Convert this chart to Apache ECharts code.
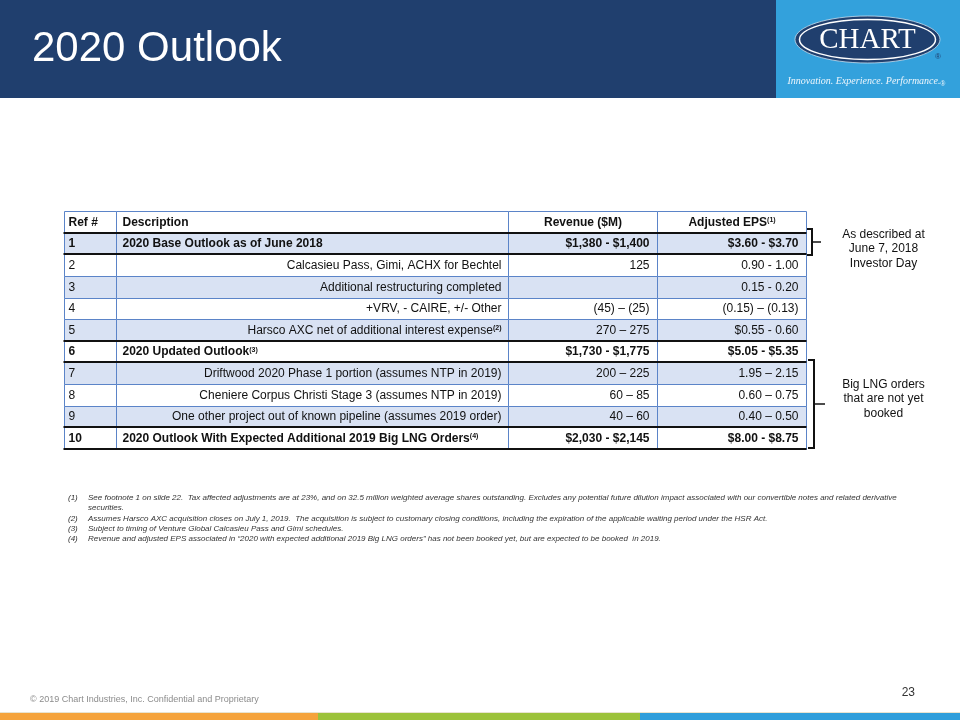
<!DOCTYPE html>
<html><head><meta charset="utf-8">
<script src="https://cdn.jsdelivr.net/npm/echarts@6/dist/echarts.min.js"></script>
<style>html,body{margin:0;padding:0;background:#fff}#c{width:960px;height:720px}</style>
</head><body><div id="c"></div>
<script>
// ---------------- data ----------------
const headers = ['Ref #', 'Description', 'Revenue ($M)', 'Adjusted EPS'];
const headerNotes = [null, null, null, 1];
const refs = ['1', '2', '3', '4', '5', '6', '7', '8', '9', '10'];
const descriptions = [
  '2020 Base Outlook as of June 2018',
  'Calcasieu Pass, Gimi, ACHX for Bechtel',
  'Additional restructuring completed',
  '+VRV, - CAIRE, +/- Other',
  'Harsco AXC net of additional interest expense',
  '2020 Updated Outlook',
  'Driftwood 2020 Phase 1 portion (assumes NTP in 2019)',
  'Cheniere Corpus Christi Stage 3 (assumes NTP in 2019)',
  'One other project out of known pipeline (assumes 2019 order)',
  '2020 Outlook With Expected Additional 2019 Big LNG Orders'
];
const descNotes = [null, null, null, null, 2, 3, null, null, null, 4];
const revenue = ['$1,380 - $1,400', '125', '', '(45) \u2013 (25)', '270 \u2013 275', '$1,730 - $1,775', '200 \u2013 225', '60 \u2013 85', '40 \u2013 60', '$2,030 - $2,145'];
const eps = ['$3.60 - $3.70', '0.90 - 1.00', '0.15 - 0.20', '(0.15) \u2013 (0.13)', '$0.55 - 0.60', '$5.05 - $5.35', '1.95 \u2013 2.15', '0.60 \u2013 0.75', '0.40 \u2013 0.50', '$8.00 - $8.75'];
const totalRefs = ['1', '6', '10'];
const bracketFrom = ['1', '7'];
const bracketTo = ['1', '10'];
const bracketLabels = [
  ['As described at', 'June 7, 2018', 'Investor Day'],
  ['Big LNG orders', 'that are not yet', 'booked']
];
const footnoteNums = ['(1)', '', '(2)', '(3)', '(4)'];
const footnoteLines = [
  'See footnote 1 on slide 22.  Tax affected adjustments are at 23%, and on 32.5 million weighted average shares outstanding. Excludes any potential future dilution impact associated with our convertible notes and related derivative',
  'securities.',
  'Assumes Harsco AXC acquisition closes on July 1, 2019.  The acquisition is subject to customary closing conditions, including the expiration of the applicable waiting period under the HSR Act.',
  'Subject to timing of Venture Global Calcasieu Pass and Gimi schedules.',
  'Revenue and adjusted EPS associated in \u201c2020 with expected additional 2019 Big LNG orders\u201d has not been booked yet, but are expected to be booked  in 2019.'
];
const titleText = '2020 Outlook';
const footerText = '\u00a9 2019 Chart Industries, Inc. Confidential and Proprietary';
const pageNumber = '23';

// ---------------- styles ----------------
const FONT = "'Liberation Sans', Arial, sans-serif";
const SERIF = "'Liberation Serif', 'Times New Roman', serif";
const NAVY = '#203F6E';
const LOGO_BLUE = '#33A1DC';
const BAND = '#D9E2F3';
const GRID_LINE = '#5B84C8';
const TXT = '#111111';
const TABLE_W = 742;
const COL_EDGES = [0, 52, 444, 593, 742];
const BR_STYLE = [{dx: 6, tick: 9, serif: 5, top: -4, bot: 1, labelDy: 7}, {dx: 8, tick: 11, serif: 6, top: -2, bot: -1, labelDy: -5}];

const rowKeys = ['hdr'].concat(refs);

function richText(t, note) {
  return note ? t + '{sup|(' + note + ')}' : t;
}

function renderRow(params, api) {
  const r = api.value(1);
  const h = api.size([0, 1])[1];
  const cy = api.coord([0, r])[1];
  const top = Math.round(cy - h / 2) + 0.5;
  const bot = Math.round(cy + h / 2) + 0.5;
  const xs = COL_EDGES.map(e => Math.round(api.coord([e, r])[0]) + 0.5);
  const children = [];
  const fill = r % 2 === 1 ? BAND : '#ffffff';
  for (let c = 0; c < 4; c++) {
    children.push({type: 'rect', shape: {x: xs[c], y: top, width: xs[c + 1] - xs[c], height: bot - top},
      style: {fill: fill, stroke: GRID_LINE, lineWidth: 1}});
  }
  const isHeader = r === 0;
  const i = r - 1;
  const bold = isHeader || totalRefs.indexOf(refs[i]) >= 0;
  const cells = isHeader
    ? headers.map((t, k) => ({t: t, note: headerNotes[k]}))
    : [{t: refs[i]}, {t: descriptions[i], note: descNotes[i]}, {t: revenue[i]}, {t: eps[i]}];
  cells.forEach((cell, c) => {
    let align, x;
    if (c === 0) { align = 'left'; x = xs[0] + 4; }
    else if (c === 1) {
      if (bold) { align = 'left'; x = xs[1] + 6; } else { align = 'right'; x = xs[2] - 7; }
    } else if (isHeader) { align = 'center'; x = (xs[c] + xs[c + 1]) / 2; }
    else { align = 'right'; x = xs[c + 1] - 8; }
    if (!cell.t) return;
    children.push({type: 'text', z2: 10, style: {
      text: richText(cell.t, cell.note), x: x, y: cy + 0.5,
      align: align, textAlign: align, verticalAlign: 'middle', textVerticalAlign: 'middle',
      fontSize: 12, fontFamily: FONT, fontWeight: bold ? 'bold' : 'normal', fill: TXT,
      rich: {sup: {fontSize: 7, fontFamily: FONT, fontWeight: 'bold', fill: TXT, verticalAlign: 'top', padding: [0, 0, 3, 0]}}
    }});
  });
  return {type: 'group', children: children};
}

function renderRule(params, api) {
  const r = api.value(1);
  const h = api.size([0, 1])[1];
  const y = Math.round(api.coord([0, r])[1] + h / 2);
  const x1 = api.coord([0, r])[0];
  const x2 = api.coord([TABLE_W, r])[0];
  return {type: 'line', shape: {x1: x1 - 0.5, y1: y, x2: x2 + 0.5, y2: y}, style: {stroke: TXT, lineWidth: 2}};
}

function renderBracket(params, api) {
  const r1 = api.value(1), r2 = api.value(2), k = api.value(3);
  const s = BR_STYLE[k];
  const h = api.size([0, 1])[1];
  const top = Math.round(api.coord([0, r1])[1] - h / 2 + s.top);
  const bot = Math.round(api.coord([0, r2])[1] + h / 2 + s.bot);
  const xr = api.coord([TABLE_W, r1])[0];
  const bx = Math.round(xr + s.dx);
  const mid = Math.round((top + bot) / 2);
  return {type: 'group', children: [
    {type: 'polyline', shape: {points: [[bx - s.serif, top], [bx, top], [bx, bot], [bx - s.serif, bot]]},
      style: {stroke: TXT, lineWidth: 2, fill: null}},
    {type: 'line', shape: {x1: bx, y1: mid, x2: bx + s.tick, y2: mid}, style: {stroke: TXT, lineWidth: 1.5}},
    {type: 'text', style: {text: bracketLabels[k].join('\n'), x: xr + 77.5, y: mid + s.labelDy,
      align: 'center', textAlign: 'center', verticalAlign: 'middle', textVerticalAlign: 'middle',
      lineHeight: 14.5, fontSize: 12, fontFamily: FONT, fill: TXT}}
  ]};
}

const rowData = rowKeys.map((k, i) => [0, i]);
const ruleRows = ['hdr', '1', '5', '6', '9', '10'].map(ref => [0, rowKeys.indexOf(ref)]);
const bracketData = bracketFrom.map((f, k) => [0, rowKeys.indexOf(f), rowKeys.indexOf(bracketTo[k]), k]);

// ---------------- graphics (slide frame) ----------------
const graphics = [
  {type: 'rect', shape: {x: 0, y: 0, width: 960, height: 98}, style: {fill: NAVY}},
  {type: 'rect', shape: {x: 776, y: 0, width: 184, height: 98}, style: {fill: LOGO_BLUE}},
  {type: 'text', style: {text: titleText, x: 32, y: 49, fontSize: 42, fontFamily: FONT, fill: '#ffffff',
    verticalAlign: 'middle', textVerticalAlign: 'middle'}},
  {type: 'ellipse', shape: {cx: 867.5, cy: 39.5, rx: 72.5, ry: 23.5}, style: {fill: NAVY, stroke: '#c9dff0', lineWidth: 0.8}},
  {type: 'ellipse', shape: {cx: 867.5, cy: 39.5, rx: 68, ry: 20}, style: {fill: null, stroke: '#ffffff', lineWidth: 1.5}},
  {type: 'text', style: {text: 'CHART', x: 867.5, y: 40, fontSize: 29, fontFamily: SERIF, fill: '#ffffff',
    align: 'center', textAlign: 'center', verticalAlign: 'middle', textVerticalAlign: 'middle'}},
  {type: 'text', style: {text: '\u00ae', x: 938, y: 57, fontSize: 8, fontFamily: FONT, fill: '#1f3e6e',
    align: 'center', textAlign: 'center', verticalAlign: 'middle', textVerticalAlign: 'middle'}},
  {type: 'text', style: {text: 'Innovation. Experience. Performance.', x: 864, y: 81, fontSize: 10, fontStyle: 'italic', fontFamily: SERIF, fill: '#eef6fc',
    align: 'center', textAlign: 'center', verticalAlign: 'middle', textVerticalAlign: 'middle'}},
  {type: 'text', style: {text: '\u00ae', x: 943, y: 84, fontSize: 6.5, fontFamily: FONT, fill: '#eef6fc',
    align: 'center', textAlign: 'center', verticalAlign: 'middle', textVerticalAlign: 'middle'}},
  {type: 'text', style: {text: footerText, x: 30, y: 700, fontSize: 9, fontFamily: FONT, fill: '#8c8c8c',
    verticalAlign: 'middle', textVerticalAlign: 'middle'}},
  {type: 'text', style: {text: pageNumber, x: 915, y: 693, fontSize: 12, fontFamily: FONT, fill: '#333333',
    align: 'right', textAlign: 'right', verticalAlign: 'middle', textVerticalAlign: 'middle'}},
  {type: 'rect', shape: {x: 0, y: 712, width: 960, height: 1}, style: {fill: '#e8e4d0'}},
  {type: 'rect', shape: {x: 0, y: 713, width: 318, height: 7}, style: {fill: '#F5A33B'}},
  {type: 'rect', shape: {x: 318, y: 713, width: 322, height: 7}, style: {fill: '#9CC23A'}},
  {type: 'rect', shape: {x: 640, y: 713, width: 320, height: 7}, style: {fill: '#2F9EDB'}}
];
const FN_Y = [498, 508, 518.5, 528.5, 539];
footnoteLines.forEach((t, k) => {
  if (footnoteNums[k]) graphics.push({type: 'text', style: {text: footnoteNums[k], x: 68, y: FN_Y[k], fontSize: 8, fontStyle: 'italic', fontFamily: FONT, fill: '#333',
    verticalAlign: 'middle', textVerticalAlign: 'middle'}});
  graphics.push({type: 'text', style: {text: t, x: 88, y: FN_Y[k], fontSize: 8, fontStyle: 'italic', fontFamily: FONT, fill: '#333',
    verticalAlign: 'middle', textVerticalAlign: 'middle'}});
});

const chart = echarts.init(document.getElementById('c'), null, {renderer: 'canvas'});
chart.setOption({
  animation: false,
  backgroundColor: '#ffffff',
  grid: {left: 64, top: 211, width: TABLE_W, height: 238},
  xAxis: {type: 'value', min: 0, max: TABLE_W, show: false},
  yAxis: {type: 'category', data: rowKeys, inverse: true, show: false},
  graphic: graphics,
  series: [
    {type: 'custom', name: 'cells', renderItem: renderRow, data: rowData, encode: {x: 0, y: 1}, clip: false, z: 2},
    {type: 'custom', name: 'rules', renderItem: renderRule, data: ruleRows, encode: {x: 0, y: 1}, clip: false, z: 3},
    {type: 'custom', name: 'brackets', renderItem: renderBracket, data: bracketData, encode: {x: 0, y: 1}, clip: false, z: 3}
  ]
});
</script>
</body></html>
